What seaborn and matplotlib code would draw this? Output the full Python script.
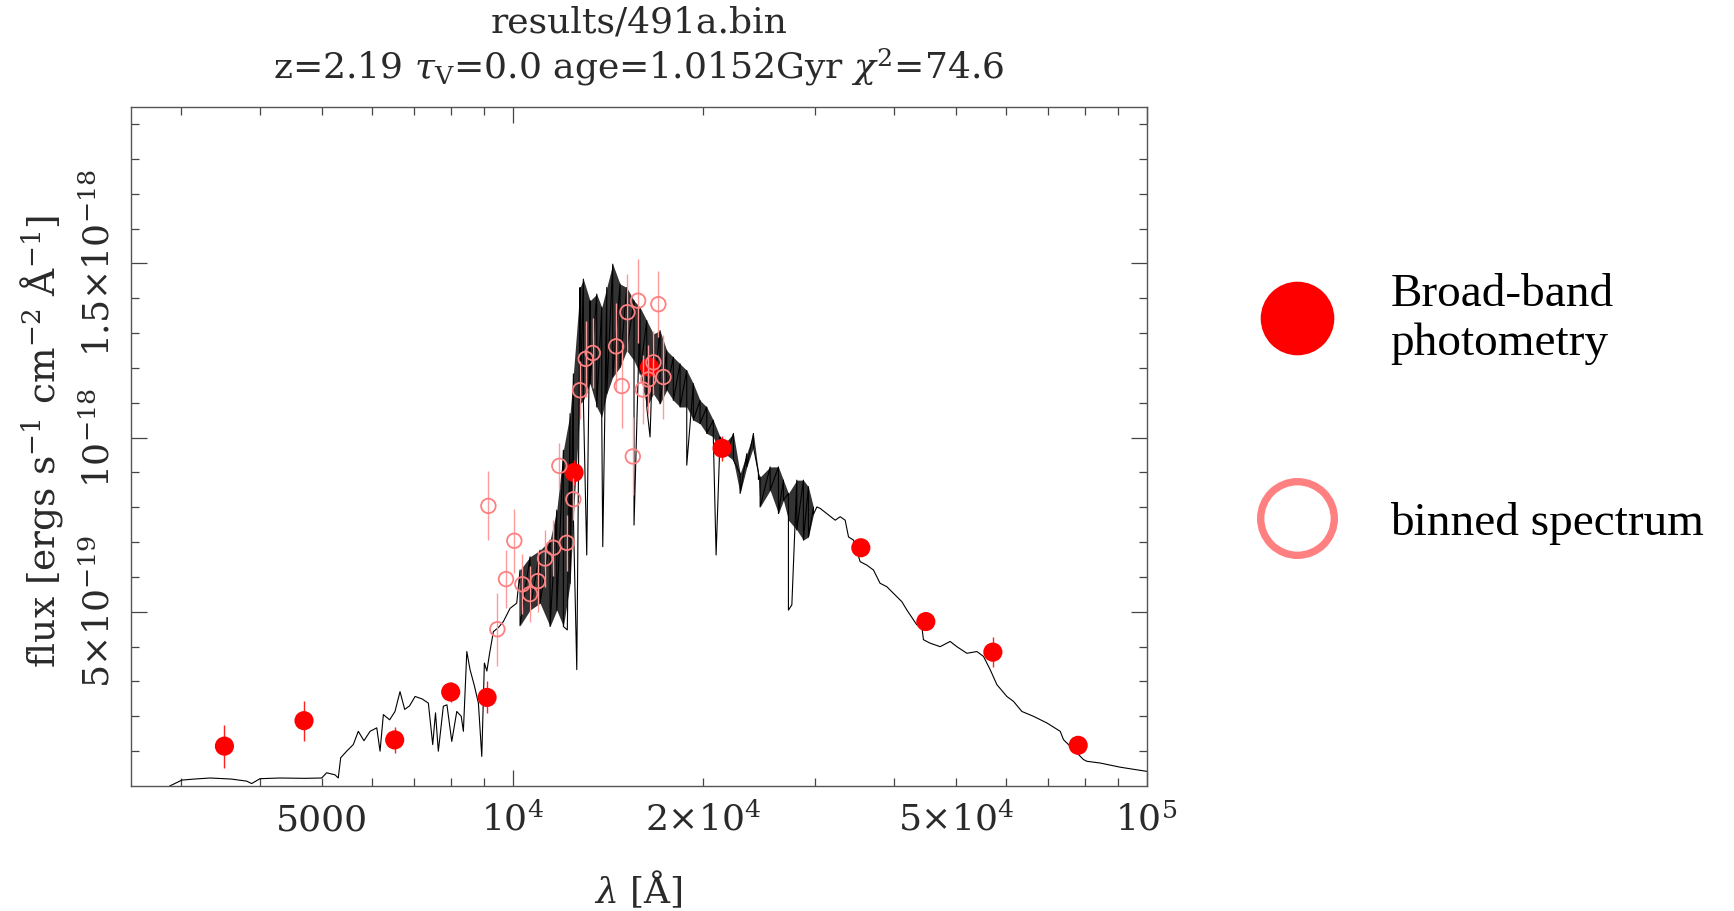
import numpy as np
import pandas as pd
import matplotlib
matplotlib.use("Agg")
import matplotlib.pyplot as plt
from matplotlib.lines import Line2D
from matplotlib.ticker import FixedLocator, NullFormatter
import seaborn as sns

# ---------------- data (flux in units of 1e-18 erg s^-1 cm^-2 A^-1) ----------------
# model spectrum, blue part (single trace)
left_wave = [2880, 3010, 3150, 3334, 3600, 3809, 3878, 3997, 4300, 4700,
             5000, 5092, 5250, 5311, 5358, 5476, 5609, 5712, 5830, 5962,
             6108, 6181, 6256, 6400, 6526, 6646, 6760, 6880, 7020, 7200,
             7366, 7484, 7560, 7638, 7778, 7880, 8020, 8167, 8300, 8365,
             8470, 8570, 8700, 8834, 8943, 9028, 9110, 9194, 9260, 9327,
             9500, 9672, 9911, 10153]
left_flux = [0.0, 0.017, 0.020, 0.023, 0.020, 0.014, 0.007, 0.021, 0.023, 0.022,
             0.023, 0.038, 0.032, 0.023, 0.081, 0.100, 0.119, 0.157, 0.130, 0.157,
             0.167, 0.100, 0.205, 0.190, 0.214, 0.271, 0.220, 0.230, 0.257, 0.250,
             0.238, 0.119, 0.210, 0.100, 0.229, 0.233, 0.128, 0.214, 0.200, 0.157,
             0.386, 0.334, 0.290, 0.238, 0.085, 0.353, 0.330, 0.377, 0.410, 0.443,
             0.455, 0.472, 0.510, 0.525]

# model spectrum, dense absorption-line region (lower / upper envelope)
band_wave = [10276, 10656, 11050, 11460, 11742, 12028, 12323, 12472, 12779, 12933,
             13250, 13576, 13825, 14079, 14388, 14775, 15137, 15544, 15887, 16279,
             16675, 17083, 17504, 17929, 18371, 18824, 19280, 19753, 20240, 20730,
             21245, 21767, 22300, 22848, 23410, 23980, 24420, 24570, 25480, 26260,
             26740, 27230, 28070, 28750, 29280, 29820]
band_lo = [0.460, 0.505, 0.525, 0.458, 0.505, 0.458, 0.582, 0.773, 1.097, 1.107,
           1.155, 1.088, 1.059, 1.126, 1.174, 1.202, 1.250, 1.221, 1.183, 1.088,
           1.126, 1.097, 1.136, 1.107, 1.088, 1.088, 1.050, 1.040, 1.012, 1.002,
           0.954, 0.950, 0.935, 0.840, 0.916, 0.973, 0.880, 0.801, 0.849, 0.782,
           0.820, 0.763, 0.735, 0.706, 0.715, 0.780]
band_hi = [0.620, 0.658, 0.677, 0.706, 0.792, 0.964, 1.069, 1.183, 1.431, 1.455,
           1.393, 1.412, 1.374, 1.431, 1.498, 1.441, 1.431, 1.393, 1.374, 1.336,
           1.298, 1.307, 1.250, 1.231, 1.212, 1.193, 1.155, 1.107, 1.088, 1.050,
           1.002, 0.990, 1.012, 0.897, 0.954, 1.012, 0.900, 0.887, 0.916, 0.916,
           0.878, 0.840, 0.878, 0.878, 0.859, 0.800]

# deep absorption lines
spike_wave = [12200, 12627, 13092, 13876, 15544, 16475, 18824, 20941, 27230, 27570]
spike_flux = [0.448, 0.334, 0.663, 0.687, 0.749, 1.002, 0.921, 0.663, 0.505, 0.520]

# model spectrum, red tail
tail_wave = [30190, 30550, 31300, 32270, 32860, 33460, 33870, 34480, 35330, 36200,
             37080, 37980, 38930, 39870, 41110, 41870, 43390, 44190, 44460, 45550,
             47240, 48980, 50190, 52050, 53980, 55290, 56650, 58040, 60190, 61650,
             63560, 66300, 69600, 73050, 73930, 76640, 79480, 80470, 84460, 90830,
             100060]
tail_flux = [0.801, 0.797, 0.782, 0.763, 0.773, 0.763, 0.715, 0.706, 0.644, 0.634,
             0.620, 0.582, 0.572, 0.553, 0.529, 0.505, 0.463, 0.458, 0.420, 0.410,
             0.400, 0.415, 0.400, 0.381, 0.386, 0.372, 0.334, 0.291, 0.257, 0.243,
             0.214, 0.200, 0.181, 0.157, 0.133, 0.105, 0.076, 0.071, 0.066, 0.054,
             0.042]

# broad-band photometry
phot_wave = [3513, 4690, 6519, 7989, 9117, 12503, 16438, 21400, 35416, 44843, 57203, 77980]
phot_flux = [0.1145, 0.1876, 0.1323, 0.2698, 0.2543, 0.8998, 1.2022, 0.9694,
             0.6839, 0.4720, 0.3843, 0.1168]
phot_err = [0.062, 0.057, 0.038, 0.029, 0.046, 0.036, 0.030, 0.036,
            0.020, 0.020, 0.043, 0.020]

# binned spectrum
bin_wave = [9160, 9463, 9766, 10065, 10363, 10656, 10958, 11253, 11598, 11852,
            12176, 12470, 12776, 13046, 13382, 14565, 14868, 15175, 15475, 15777,
            16049, 16378, 16679, 16982, 17294]
bin_flux = [0.804, 0.450, 0.594, 0.704, 0.579, 0.551, 0.588, 0.653, 0.684, 0.919,
            0.698, 0.823, 1.136, 1.226, 1.243, 1.262, 1.148, 1.360, 0.946, 1.393,
            1.138, 1.167, 1.216, 1.383, 1.174]
bin_err = [0.099, 0.105, 0.083, 0.092, 0.086, 0.080, 0.088, 0.081, 0.080, 0.067,
           0.080, 0.060, 0.083, 0.110, 0.100, 0.124, 0.120, 0.110, 0.112, 0.120,
           0.100, 0.100, 0.090, 0.095, 0.120]

# axis tick labels
xmajor_ticks = [1e4, 1e5]
xmajor_labels = [r"$10^4$", r"$10^5$"]
xminor_ticks = [3000, 4000, 5000, 6000, 7000, 8000, 9000,
                20000, 30000, 40000, 50000, 60000, 70000, 80000, 90000]
xminor_labels = {5000: "5000", 20000: r"$2{\times}10^4$", 50000: r"$5{\times}10^4$"}
ymajor_ticks = [0.5, 1.0, 1.5]
ymajor_labels = [r"$5{\times}10^{-19}$", r"$10^{-18}$", r"$1.5{\times}10^{-18}$"]
yminor_ticks = [0.1, 0.2, 0.3, 0.4, 0.6, 0.7, 0.8, 0.9, 1.1, 1.2, 1.3, 1.4,
                1.6, 1.7, 1.8, 1.9]

title1 = "results/491a.bin"
title2 = r"z=2.19 $\tau_{\rm V}$=0.0 age=1.0152Gyr $\chi^2$=74.6"
xlabel = r"$\lambda$ [Å]"
ylabel = r"flux [ergs s$^{-1}$ cm$^{-2}$ Å$^{-1}$]"
legend_labels = ["Broad-band\nphotometry", "binned spectrum"]

# ---------------- style ----------------
sns.set_style("ticks")
plt.rcParams["font.family"] = ["DejaVu Serif"]
plt.rcParams["mathtext.fontset"] = "dejavuserif"

TXT = "#2a2a2a"
FS = 26

fig = plt.figure(figsize=(17.34, 9.11), dpi=100)
ax = fig.add_axes([0.0754, 0.1372, 0.5859, 0.7457])

# build spectrum table
rows = [(w, f) for w, f in zip(left_wave, left_flux)]
for w, lo, hi in zip(band_wave, band_lo, band_hi):
    rows.append((w, hi))
    rows.append((w, lo))
rows += [(w, f) for w, f in zip(spike_wave, spike_flux)]
rows += [(w, f) for w, f in zip(tail_wave, tail_flux)]
spec = pd.DataFrame(rows, columns=["wave", "flux"]).sort_values("wave", kind="stable")

ax.set_xscale("log")
ax.fill_between(band_wave, band_lo, band_hi, color="black", alpha=0.8, lw=0)
sns.lineplot(data=spec, x="wave", y="flux", estimator=None, sort=False,
             color="black", lw=0.8, ax=ax)

# photometry
ax.errorbar(phot_wave, phot_flux, yerr=phot_err, fmt="none", ecolor="#ff2020",
            elinewidth=1.0, capsize=0, zorder=3)
sns.scatterplot(x=phot_wave, y=phot_flux, color="#ff0000", s=190, edgecolor="none",
                ax=ax, zorder=4)
# binned spectrum
ax.errorbar(bin_wave, bin_flux, yerr=bin_err, fmt="none", ecolor="#ff9a9a",
            elinewidth=1.0, capsize=0, zorder=5)
sns.scatterplot(x=bin_wave, y=bin_flux, s=110, facecolor="none", edgecolor="#ff8080",
                linewidth=1.3, ax=ax, zorder=6)

ax.set_xlim(2500, 1e5)
ax.set_ylim(0, 1.95)
ax.set_xlabel("")
ax.set_ylabel("")

ax.xaxis.set_major_locator(FixedLocator(xmajor_ticks))
ax.xaxis.set_minor_locator(FixedLocator(xminor_ticks))
ax.set_xticks(xmajor_ticks)
ax.set_xticklabels(xmajor_labels)
ax.set_xticks(xminor_ticks, minor=True)
ax.set_xticklabels([xminor_labels.get(t, "") for t in xminor_ticks], minor=True)
ax.set_yticks(ymajor_ticks)
ax.set_yticklabels(ymajor_labels)
ax.set_yticks(yminor_ticks, minor=True)
ax.yaxis.set_minor_formatter(NullFormatter())

ax.tick_params(which="both", direction="in", top=True, right=True,
               color="#444444", width=0.9, labelsize=FS, labelcolor=TXT)
ax.tick_params(which="major", length=11.5)
ax.tick_params(which="minor", length=6)
ax.tick_params(axis="x", which="both", pad=32)
ax.tick_params(axis="y", which="major", pad=10, labelrotation=90)
for t in ax.get_xticklabels(which="both"):
    t.set_va("baseline")
for t in ax.get_yticklabels():
    t.set_va("center")
for s in ax.spines.values():
    s.set_color("#555555")
    s.set_linewidth(1.0)

cx = 0.3683
fig.text(cx, 0.9638, title1, ha="center", va="baseline", fontsize=FS, color=TXT)
fig.text(cx, 0.9133, title2, ha="center", va="baseline", fontsize=FS, color=TXT)
fig.text(cx, 0.023, xlabel, ha="center", va="center", fontsize=FS, color=TXT)
fig.text(0.0237, 0.515, ylabel, ha="center", va="center", rotation=90,
         fontsize=27, color=TXT)

handles = [
    Line2D([], [], ls="none", marker="o", ms=53, mfc="#ff0000", mec="none"),
    Line2D([], [], ls="none", marker="o", ms=53, mfc="none", mec="#ff8080", mew=5.3),
]
fig.legend(handles, legend_labels, loc="upper left",
           bbox_to_anchor=(1249.5 / 1734, 0.7003), frameon=False,
           prop={"family": "Liberation Serif", "size": 34}, labelcolor="black",
           handlelength=2.0, handletextpad=0.98, labelspacing=2.9,
           borderpad=0, borderaxespad=0)

fig.savefig("out.png", dpi=100)
